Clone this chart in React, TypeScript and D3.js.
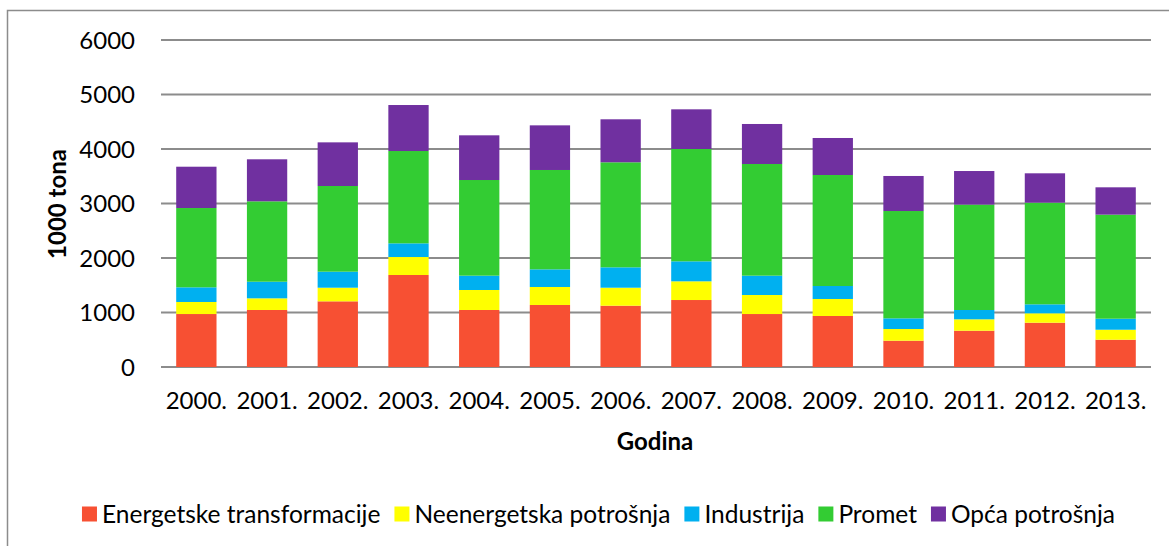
import React, { useEffect, useRef } from 'react';
import * as d3 from 'd3';

const years = ['2000.', '2001.', '2002.', '2003.', '2004.', '2005.', '2006.', '2007.', '2008.', '2009.', '2010.', '2011.', '2012.', '2013.'];
const seriesNames = ['Energetske transformacije', 'Neenergetska potrošnja', 'Industrija', 'Promet', 'Opća potrošnja'];
const seriesColors = ['#f75033', '#ffff00', '#00b0f0', '#33cc33', '#7030a0'];

const energetske = [972, 1046, 1205, 1688, 1046, 1138, 1125, 1229, 972, 936, 483, 666, 813, 501];
const neenergetska = [221, 214, 250, 330, 367, 330, 330, 343, 349, 312, 214, 209, 172, 183];
const industrija = [269, 305, 294, 251, 263, 324, 374, 367, 355, 238, 196, 171, 165, 202];
const promet = [1455, 1475, 1572, 1694, 1755, 1823, 1927, 2061, 2049, 2037, 1969, 1933, 1865, 1909];
const opca = [758, 771, 801, 844, 820, 819, 789, 728, 734, 679, 643, 617, 539, 502];

const yTicks = [0, 1000, 2000, 3000, 4000, 5000, 6000];

const FONT = 'Lato, "Open Sans", sans-serif';

export default function App() {
  const svgRef = useRef<SVGSVGElement>(null);

  useEffect(() => {
    const svg = d3.select(svgRef.current);
    svg.selectAll('*').remove();

    // outer frame (right and bottom edges fall outside the picture)
    svg.append('rect')
      .attr('x', 7.5).attr('y', 10.5)
      .attr('width', 1200).attr('height', 600)
      .attr('fill', '#fff')
      .attr('stroke', '#8c8c8c')
      .attr('stroke-width', 1.5);

    const plot = { left: 161, right: 1151, top: 40, bottom: 367 };

    const x = d3.scaleBand()
      .domain(years)
      .range([plot.left, plot.right])
      .paddingInner(0.43)
      .paddingOuter(0.215);

    const y = d3.scaleLinear()
      .domain([0, 6000])
      .range([plot.bottom, plot.top]);

    // gridlines
    svg.append('g')
      .selectAll('line')
      .data(yTicks)
      .join('line')
        .attr('x1', plot.left)
        .attr('x2', plot.right)
        .attr('y1', d => y(d))
        .attr('y2', d => y(d))
        .attr('stroke', '#8c8c8c')
        .attr('stroke-width', 2);

    // stacked bars
    const rows = years.map((yr, i) => ({
      year: yr,
      s0: energetske[i], s1: neenergetska[i], s2: industrija[i], s3: promet[i], s4: opca[i]
    }));
    const stack = d3.stack<any>().keys(['s0', 's1', 's2', 's3', 's4']);
    const layers = stack(rows);

    svg.append('g')
      .selectAll('g')
      .data(layers)
      .join('g')
        .attr('fill', (d, i) => seriesColors[i])
      .selectAll('rect')
      .data(d => d)
      .join('rect')
        .attr('x', d => x(d.data.year)!)
        .attr('width', x.bandwidth())
        .attr('y', d => y(d[1]))
        .attr('height', d => y(d[0]) - y(d[1]));

    // y tick labels
    svg.append('g')
      .selectAll('text')
      .data(yTicks)
      .join('text')
        .attr('x', 135)
        .attr('y', d => y(d))
        .attr('dy', '0.36em')
        .attr('text-anchor', 'end')
        .attr('font-family', FONT)
        .attr('font-size', '24px')
        .attr('fill', '#000')
        .text(d => d);

    // x tick labels
    svg.append('g')
      .selectAll('text')
      .data(years)
      .join('text')
        .attr('x', d => x(d)! + x.bandwidth() / 2)
        .attr('y', 409)
        .attr('text-anchor', 'middle')
        .attr('font-family', FONT)
        .attr('font-size', '24px')
        .attr('fill', '#000')
        .text(d => d);

    // axis titles
    svg.append('text')
      .attr('x', 655)
      .attr('y', 450)
      .attr('text-anchor', 'middle')
      .attr('font-family', FONT)
      .attr('font-weight', 'bold')
      .attr('font-size', '24px')
      .text('Godina');

    svg.append('text')
      .attr('transform', 'rotate(-90)')
      .attr('x', -204)
      .attr('y', 66)
      .attr('text-anchor', 'middle')
      .attr('font-family', FONT)
      .attr('font-weight', 'bold')
      .attr('font-size', '24px')
      .text('1000 tona');

    // legend
    const legend = svg.append('g');
    const items = legend.selectAll('g')
      .data(seriesNames)
      .join('g');
    items.append('rect')
      .attr('width', 15).attr('height', 15)
      .attr('y', -7.5)
      .attr('fill', (d, i) => seriesColors[i]);
    items.append('text')
      .attr('x', 20)
      .attr('dy', '0.36em')
      .attr('font-family', FONT)
      .attr('font-size', '24.5px')
      .text(d => d);

    const gap = 14;
    let cx = 0;
    const offsets: number[] = [];
    items.each(function () {
      offsets.push(cx);
      const t = (this as SVGGElement).querySelector('text') as SVGTextElement;
      cx += 20 + t.getComputedTextLength() + gap;
    });
    const total = cx - gap;
    items.attr('transform', (d, i) => `translate(${offsets[i]},0)`);
    legend.attr('transform', `translate(${(79 + 1118) / 2 - total / 2},514)`);
  }, []);

  return (
    <svg ref={svgRef} width={1169} height={546} style={{ display: 'block', position: 'absolute', left: 0, top: 0 }} />
  );
}
